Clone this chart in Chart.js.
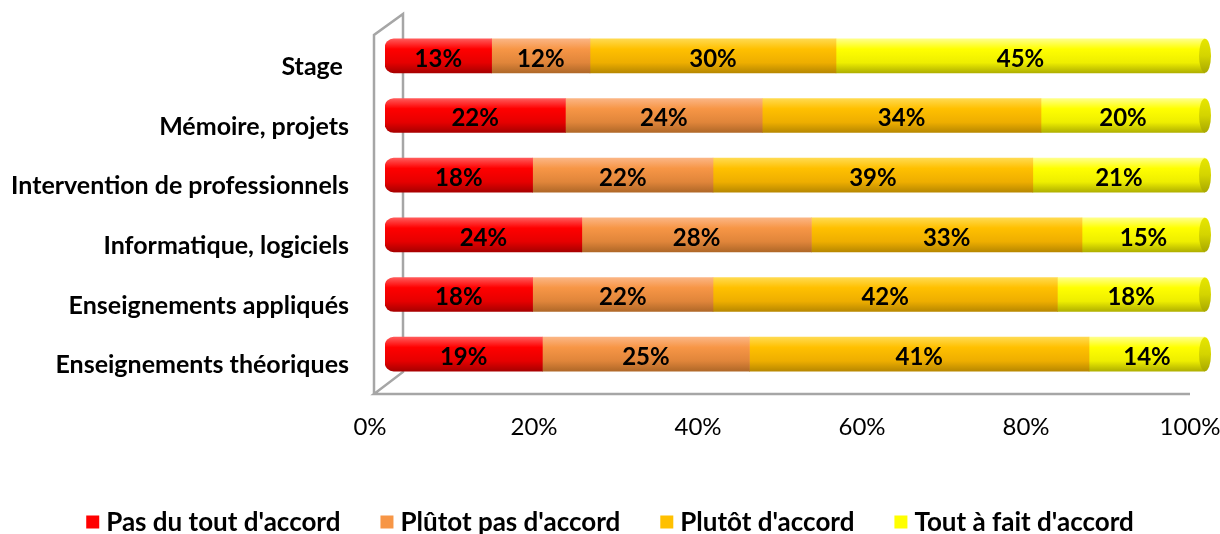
<!DOCTYPE html>
<html>
<head>
<meta charset="utf-8">
<script src="https://cdn.jsdelivr.net/npm/chart.js@4.4.0/dist/chart.umd.min.js"></script>
<style>
html,body{margin:0;padding:0;background:#fff;}
#wrap{width:1220px;height:534px;position:relative;}
</style>
</head>
<body>
<div id="wrap"><canvas id="c" width="1220" height="534"></canvas></div>
<script>
const categories = ["Stage ", "Mémoire, projets", "Intervention de professionnels", "Informatique, logiciels", "Enseignements appliqués", "Enseignements théoriques"];
const seriesNames = ["Pas du tout d'accord", "Plûtot pas d'accord", "Plutôt d'accord", "Tout à fait d'accord"];
const pasDuTout = [13, 22, 18, 24, 18, 19];
const plutotPas = [12, 24, 22, 28, 22, 25];
const plutot = [30, 34, 39, 33, 42, 41];
const toutAFait = [45, 20, 21, 15, 18, 14];
const xTicks = [0, 20, 40, 60, 80, 100];

const baseColors = ["#FF0000", "#F79646", "#FFC000", "#FFFF00"];
const shades = [
  ["#FF5A5A", "#FF0000", "#E60000", "#A80000"],
  ["#FBB584", "#F79646", "#E0853A", "#B06828"],
  ["#FFDA50", "#FFC000", "#EEAE00", "#B88800"],
  ["#FFFF8A", "#FFFF00", "#EEEE00", "#B0B000"]
];

const raw = [pasDuTout, plutotPas, plutot, toutAFait];
const totals = categories.map((_, i) => raw.reduce((s, a) => s + a[i], 0));
const pct = raw.map(a => a.map((v, i) => v / totals[i] * 100));

const FONT = "Lato, 'Open Sans', sans-serif";
const BAR_T = 34;

function grad(ctx, di) {
  const chart = ctx.chart;
  const ys = chart.scales && chart.scales.y;
  if (!chart.chartArea || !ys || ctx.dataIndex === undefined) return baseColors[di];
  const yc = ys.getPixelForValue(ctx.dataIndex);
  const g = chart.ctx.createLinearGradient(0, yc - BAR_T / 2, 0, yc + BAR_T / 2);
  const s = shades[di];
  g.addColorStop(0, s[0]);
  g.addColorStop(0.3, s[1]);
  g.addColorStop(0.7, s[2]);
  g.addColorStop(1, s[3]);
  return g;
}

const datasets = pct.map((arr, di) => ({
  label: seriesNames[di],
  data: arr,
  backgroundColor: (ctx) => grad(ctx, di),
  borderWidth: 0,
  borderSkipped: false,
  borderRadius: di === 0 ? {topLeft: 9, bottomLeft: 9, topRight: 0, bottomRight: 0} : 0,
  barThickness: BAR_T
}));

const framePlugin = {
  id: 'frame',
  beforeDatasetsDraw(chart) {
    const {ctx, chartArea: a} = chart;
    const fx = a.left - 11, bx = a.left + 18;
    const fTop = 35, bTop = 14, fBot = a.bottom + 10, bBot = a.bottom - 12;
    const xs = chart.scales.x;
    ctx.save();
    ctx.strokeStyle = "#A6A6A6";
    ctx.lineWidth = 2.5;
    ctx.beginPath();
    ctx.moveTo(fx, fBot); ctx.lineTo(fx, fTop); ctx.lineTo(bx, bTop); ctx.lineTo(bx, bBot); ctx.lineTo(fx, fBot);
    ctx.lineTo(xs.getPixelForValue(100) - 15, fBot);
    ctx.stroke();
    ctx.restore();
  }
};

const labelPlugin = {
  id: 'vals',
  afterDatasetsDraw(chart) {
    const {ctx} = chart;
    ctx.save();
    const last = chart.getDatasetMeta(3);
    last.data.forEach((el) => {
      const g = ctx.createLinearGradient(0, el.y - BAR_T / 2, 0, el.y + BAR_T / 2);
      g.addColorStop(0, "#E6E600");
      g.addColorStop(0.5, "#D4D400");
      g.addColorStop(1, "#A8A800");
      ctx.fillStyle = g;
      ctx.beginPath();
      ctx.ellipse(el.x, el.y, 6, BAR_T / 2, 0, 0, Math.PI * 2);
      ctx.fill();
    });
    ctx.font = "bold 24px " + FONT;
    ctx.fillStyle = "#000";
    ctx.textAlign = "center";
    ctx.textBaseline = "middle";
    chart.data.datasets.forEach((ds, di) => {
      const meta = chart.getDatasetMeta(di);
      meta.data.forEach((el, i) => {
        const x = (el.x + el.base) / 2;
        ctx.fillText(Math.round(raw[di][i] / totals[i] * 100) + "%", x, el.y + 3);
      });
    });
    ctx.restore();
  }
};

const legendPlugin = {
  id: 'customLegend',
  afterDraw(chart) {
    const {ctx} = chart;
    ctx.save();
    ctx.font = "bold 26px " + FONT;
    ctx.textBaseline = "middle";
    const box = 13, gapT = 7, gapI = 40, y = 522;
    const widths = seriesNames.map(n => box + gapT + ctx.measureText(n).width);
    const total = widths.reduce((s, w) => s + w, 0) + gapI * (seriesNames.length - 1);
    let x = (chart.width - total) / 2;
    seriesNames.forEach((n, i) => {
      ctx.fillStyle = baseColors[i];
      ctx.fillRect(x, y - box / 2, box, box);
      ctx.fillStyle = "#000";
      ctx.fillText(n, x + box + gapT, y + 1);
      x += widths[i] + gapI;
    });
    ctx.restore();
  }
};

new Chart(document.getElementById('c'), {
  type: 'bar',
  data: { labels: categories, datasets },
  plugins: [framePlugin, labelPlugin, legendPlugin],
  options: {
    indexAxis: 'y',
    responsive: false,
    animation: false,
    layout: { padding: { top: 26, right: 15, bottom: 94, left: 0 } },
    plugins: { legend: { display: false }, tooltip: { enabled: false } },
    scales: {
      x: {
        stacked: true, min: 0, max: 100,
        afterBuildTicks(s) { s.ticks = xTicks.map(v => ({value: v})); },
        afterFit(s) { s.height = 56; s.paddingLeft = 0; s.paddingRight = 0; },
        grid: { display: false, drawTicks: false },
        border: { display: false },
        ticks: {
          callback: (v) => v + "%",
          font: { family: FONT, size: 24 },
          color: "#000",
          padding: 29,
          labelOffset: -15,
          maxRotation: 0
        }
      },
      y: {
        stacked: true,
        afterFit(s) { s.width = 385; s.paddingTop = 0; s.paddingBottom = 0; },
        grid: { display: false, drawTicks: false },
        border: { display: false },
        ticks: {
          font: { family: FONT, size: 25, weight: 'bold' },
          color: "#000",
          padding: 36,
          labelOffset: 11
        }
      }
    }
  }
});
</script>
</body>
</html>
